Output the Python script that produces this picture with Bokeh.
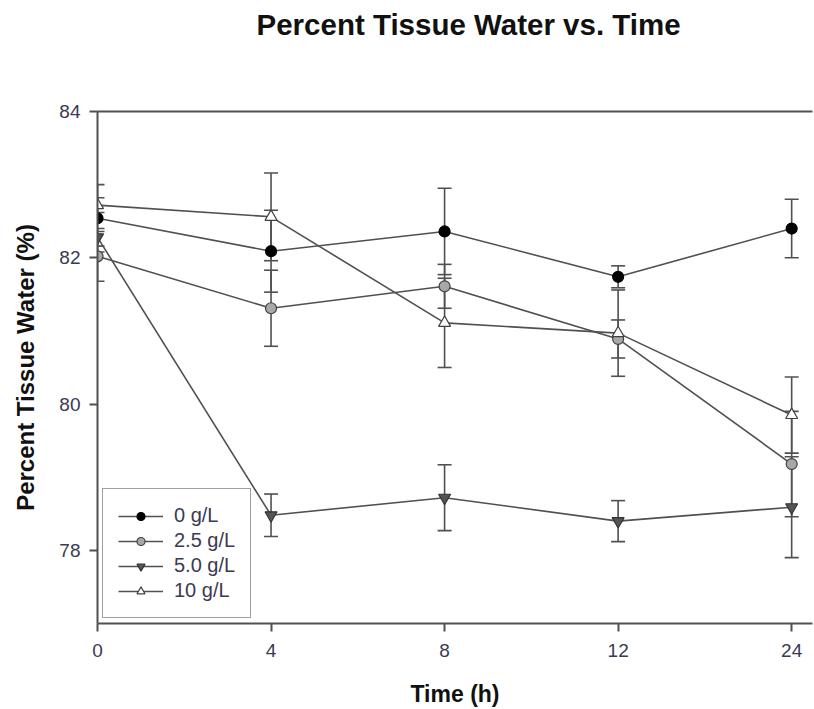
from bokeh.plotting import figure
from bokeh.models import (ColumnDataSource, Whisker, TeeHead, Legend, LegendItem,
                          FixedTicker, LinearAxis, Range1d)
from bokeh.embed import file_html
from bokeh.resources import INLINE

# ---- data ----
time_labels = ["0", "4", "8", "12", "24"]
time_index = [0, 1, 2, 3, 4]

mean_0 = [82.54, 82.09, 82.36, 81.74, 82.40]
err_0 = [0.46, 0.56, 0.59, 0.15, 0.40]

mean_25 = [82.02, 81.31, 81.61, 80.89, 79.18]
err_25 = [0.34, 0.52, 0.30, 0.26, 0.72]

mean_50 = [82.28, 78.48, 78.72, 78.40, 78.59]
err_50 = [0.12, 0.29, 0.45, 0.28, 0.69]

mean_10 = [82.72, 82.56, 81.11, 80.97, 79.85]
err_10 = [0.10, 0.60, 0.61, 0.59, 0.52]

series_names = ["0 g/L", "2.5 g/L", "5.0 g/L", "10 g/L"]

FONT = "Liberation Sans"
LINE = "#505050"
TXT = "#3a3a52"

p = figure(width=814, height=709, output_backend="svg", toolbar_location=None,
           x_range=Range1d(0, 4.12), y_range=Range1d(77, 84),
           min_border_left=97, min_border_right=2, min_border_top=111,
           min_border_bottom=86)
p.grid.visible = False
p.outline_line_color = None
p.background_fill_color = "white"
p.border_fill_color = "white"

p.title.text = "Percent Tissue Water vs. Time"
p.title.align = "left"
p.title.text_font = FONT
p.title.text_font_style = "bold"
p.title.text_font_size = "29.5px"
p.title.text_color = "#111111"
p.title.offset = 159
p.title.standoff = 10

styles = [
    (mean_0, err_0, "circle", "#000000", "#000000", 11),
    (mean_25, err_25, "circle", "#a8a8a8", "#404040", 11),
    (mean_50, err_50, "inverted_triangle", "#555555", "#333333", 12),
    (mean_10, err_10, "triangle", "#ffffff", "#404040", 12),
]

items = []
for name, (m, e, marker, fill, edge, size) in zip(series_names, styles):
    src = ColumnDataSource(dict(
        t=time_index, mean=m,
        upper=[a + b for a, b in zip(m, e)],
        lower=[a - b for a, b in zip(m, e)],
    ))
    w = Whisker(source=src, base="t", upper="upper", lower="lower",
                line_color=LINE, line_width=1.6,
                upper_head=TeeHead(size=14, line_color=LINE, line_width=1.6),
                lower_head=TeeHead(size=14, line_color=LINE, line_width=1.6))
    p.add_layout(w)
    lr = p.line(x="t", y="mean", source=src, line_color=LINE, line_width=1.6)
    sr = p.scatter(x="t", y="mean", source=src, marker=marker, size=size,
                   fill_color=fill, line_color=edge, line_width=1.2)
    items.append(LegendItem(label=name, renderers=[lr, sr]))

legend = Legend(items=items, location=(5, 5), padding=15, spacing=2,
                glyph_width=45, glyph_height=20, label_height=20,
                label_width=58, label_standoff=11,
                label_text_font=FONT, label_text_font_size="20px",
                label_text_color=TXT,
                border_line_color="#404040", border_line_width=1.5,
                background_fill_color="white", background_fill_alpha=1.0,
                margin=0)
p.add_layout(legend)

# axes
p.xaxis.ticker = FixedTicker(ticks=time_index)
p.xaxis.major_label_overrides = {i: lab for i, lab in zip(time_index, time_labels)}
p.yaxis.ticker = FixedTicker(ticks=[78, 80, 82, 84])
for ax in (p.xaxis[0], p.yaxis[0]):
    ax.axis_line_color = LINE
    ax.axis_line_width = 2
    ax.major_tick_line_color = LINE
    ax.major_tick_line_width = 2
    ax.major_tick_out = 8
    ax.major_tick_in = 0
    ax.minor_tick_line_color = None
    ax.major_label_text_font = FONT
    ax.major_label_text_font_size = "19px"
    ax.major_label_text_color = TXT
    ax.axis_label_text_font = FONT
    ax.axis_label_text_font_style = "bold"
    ax.axis_label_text_color = "#111111"

p.xaxis.major_label_standoff = 12
p.yaxis.major_label_standoff = 9
p.xaxis.axis_label = "Time (h)"
p.xaxis.axis_label_text_font_size = "23px"
p.xaxis.axis_label_standoff = 21
p.yaxis.axis_label = "Percent Tissue Water (%)"
p.yaxis.axis_label_text_font_size = "24px"
p.yaxis.axis_label_standoff = 17

# top frame line; its (blank) label only reserves room so the title sits high
top = LinearAxis(ticker=FixedTicker(ticks=[]), axis_line_color=LINE,
                 axis_line_width=2, major_tick_line_color=None,
                 minor_tick_line_color=None, axis_label=" ",
                 axis_label_text_font_size="10px", axis_label_standoff=52)
p.add_layout(top, "above")

open("out.html", "w").write(file_html(p, INLINE))
